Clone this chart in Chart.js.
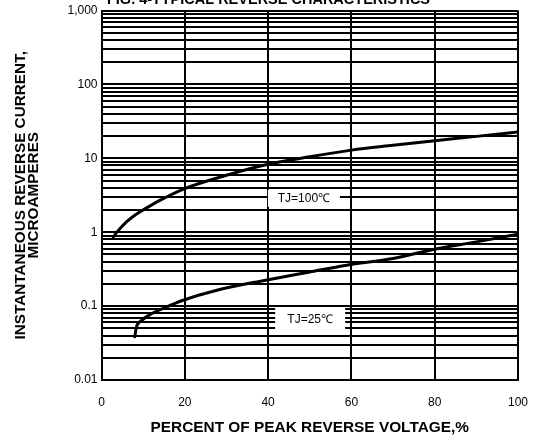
<!DOCTYPE html>
<html>
<head>
<meta charset="utf-8">
<script src="https://cdn.jsdelivr.net/npm/chart.js@4.4.0/dist/chart.umd.min.js"></script>
<style>
  body { margin: 0; background: #fff; }
  #wrap { width: 537px; height: 439px; }
</style>
</head>
<body>
<div id="wrap"><canvas id="myChart" width="537" height="439"></canvas></div>
<script>
// values
const xTicks = [0, 20, 40, 60, 80, 100];
const yTickLabels = { 0.01: '0.01', 0.1: '0.1', 1: '1', 10: '10', 100: '100', 1000: '1,000' };

const voltage100 = [2.8, 4, 6, 8, 10, 14, 20, 30, 40, 50, 60, 70, 80, 90, 100];
const current100 = [0.86, 1.05, 1.38, 1.7, 2.0, 2.7, 3.9, 5.9, 8.3, 10.5, 12.9, 15, 17.3, 19.8, 22.7];

const voltage25 = [8.0, 8.4, 9.5, 11.6, 15, 19.6, 27.7, 39.4, 50, 58.9, 70, 78.9, 90, 100];
const current25 = [0.0385, 0.0525, 0.063, 0.0765, 0.094, 0.12, 0.164, 0.224, 0.29, 0.358, 0.44, 0.571, 0.74, 0.94];

// label anchors (data coords)
const curveLabels = [
  { text: 'TJ=100\u2103', x: 48.6, y: 2.88, w: 72, h: 17 },
  { text: 'TJ=25\u2103', x: 50.1, y: 0.0667, w: 70, h: 23 }
];

const FONT = 'Liberation Sans, Arial, Helvetica, sans-serif';

let toPoints = (xs, ys) => xs.map((x, i) => ({ x: x, y: ys[i] }));

// every 1..9 x 10^k line on the log axis
let logTicks = [];
for (let e = -2; e < 3; e++) {
  for (let m = 1; m < 10; m++) {
    logTicks.push(parseFloat((m * Math.pow(10, e)).toPrecision(3)));
  }
}
logTicks.push(1000);

const extras = {
  id: 'extras',
  afterDatasetsDraw(chart) {
    const ctx = chart.ctx;
    const xs = chart.scales.x, ys = chart.scales.y;
    ctx.save();
    ctx.font = '12px ' + FONT;
    ctx.textAlign = 'center';
    ctx.textBaseline = 'middle';
    curveLabels.forEach((lb) => {
      const px = xs.getPixelForValue(lb.x);
      const py = ys.getPixelForValue(lb.y);
      ctx.fillStyle = '#fff';
      ctx.fillRect(px - lb.w / 2, py - lb.h / 2, lb.w, lb.h);
      ctx.fillStyle = '#000';
      ctx.fillText(lb.text, px, py + 0.5);
    });
    // figure title, cut off at top
    ctx.font = 'bold 14.5px ' + FONT;
    ctx.textBaseline = 'alphabetic';
    ctx.fillText('FIG. 4-TYPICAL REVERSE CHARACTERISTICS', 268.5, 3.5);
    ctx.restore();
  }
};

new Chart(document.getElementById('myChart'), {
  type: 'line',
  data: {
    datasets: [
      {
        data: toPoints(voltage100, current100),
        borderColor: '#000',
        borderWidth: 3,
        pointRadius: 0,
        cubicInterpolationMode: 'monotone',
        borderCapStyle: 'round'
      },
      {
        data: toPoints(voltage25, current25),
        borderColor: '#000',
        borderWidth: 3,
        pointRadius: 0,
        cubicInterpolationMode: 'monotone',
        borderCapStyle: 'round'
      }
    ]
  },
  options: {
    responsive: false,
    animation: false,
    layout: { padding: { top: 10.5, right: 19, left: 0, bottom: 0 } },
    plugins: { legend: { display: false }, tooltip: { enabled: false } },
    events: [],
    scales: {
      x: {
        type: 'linear',
        min: 0,
        max: 100,
        afterBuildTicks: (scale) => { scale.ticks = xTicks.map((v) => ({ value: v })); },
        afterFit: (scale) => { scale.height = 59; scale.paddingLeft = 0; scale.paddingRight = 0; },
        grid: { color: '#000', lineWidth: 2, drawTicks: false },
        border: { color: '#000', width: 2 },
        ticks: { color: '#000', padding: 15, font: { family: FONT, size: 12 }, maxRotation: 0 },
        title: {
          display: true,
          text: 'PERCENT OF PEAK REVERSE VOLTAGE,%',
          color: '#000',
          font: { family: FONT, size: 15.4, weight: 'bold', lineHeight: 0.9 },
          padding: { top: 0, bottom: 4 }
        }
      },
      y: {
        type: 'logarithmic',
        min: 0.01,
        max: 1000,
        afterBuildTicks: (scale) => { scale.ticks = logTicks.map((v) => ({ value: v })); },
        afterFit: (scale) => { scale.width = 101.5; scale.paddingTop = 0; scale.paddingBottom = 0; },
        grid: { color: '#000', lineWidth: 2, drawTicks: false },
        border: { color: '#000', width: 2 },
        ticks: {
          color: '#000',
          padding: 4,
          autoSkip: false,
          font: { family: FONT, size: 12 },
          callback: (v) => yTickLabels[v] || ''
        },
        title: {
          display: true,
          text: ['INSTANTANEOUS REVERSE CURRENT,', 'MICROAMPERES'],
          color: '#000',
          font: { family: FONT, size: 15.3, weight: 'bold', lineHeight: 0.9 },
          padding: { top: 13.5, bottom: 0 }
        }
      }
    }
  },
  plugins: [extras]
});
</script>
</body>
</html>
